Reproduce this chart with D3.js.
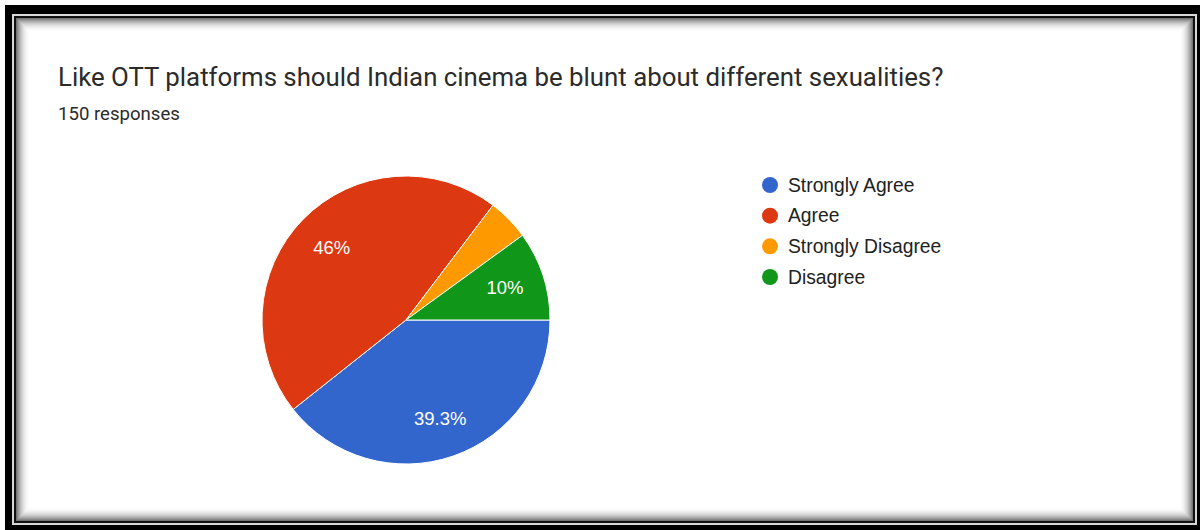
<!DOCTYPE html>
<html>
<head>
<meta charset="utf-8">
<script src="https://cdn.jsdelivr.net/npm/d3@7"></script>
<style>
  html, body { margin: 0; padding: 0; background: #ffffff; }
  svg { display: block; }
</style>
</head>
<body>
<svg id="chart" width="1200" height="530"></svg>
<script>
// Survey responses (150 total)
const categories = ["Strongly Agree", "Agree", "Strongly Disagree", "Disagree"];
const responses = [59, 69, 7, 15];
const percentLabels = ["39.3%", "46%", "", "10%"];
const sliceColors = ["#3366cc", "#dc3912", "#ff9900", "#109618"];

const titleText = "Like OTT platforms should Indian cinema be blunt about different sexualities?";
const subtitleText = "150 responses";

const W = 1200, H = 530;
const svg = d3.select("#chart");

// ---- card frame: black border, thin light rule, dark rule, inner shading ----
svg.append("rect").attr("x", 5).attr("y", 5).attr("width", W - 5).attr("height", H - 5).attr("fill", "#000");
svg.append("rect").attr("x", 12).attr("y", 14).attr("width", 1197 - 12).attr("height", 525 - 14).attr("fill", "#d8d8d8");
svg.append("rect").attr("x", 14).attr("y", 16).attr("width", 1195 - 14).attr("height", 523 - 16).attr("fill", "#111");
svg.append("rect").attr("x", 16).attr("y", 18).attr("width", 1193 - 16).attr("height", 521 - 18).attr("fill", "#fff");

// inner shadow built from nested translucent outlines
const shadowSteps = d3.range(0, 14);
svg.append("g").selectAll("rect")
  .data(shadowSteps)
  .join("rect")
  .attr("x", d => 16.5 + d)
  .attr("y", d => 18.5 + d)
  .attr("width", d => 1193 - 16 - 1 - 2 * d)
  .attr("height", d => 521 - 18 - 1 - 2 * d)
  .attr("fill", "none")
  .attr("stroke", "#000")
  .attr("stroke-opacity", d => 0.55 * Math.pow(1 - d / 14, 2.2));

// ---- titles ----
svg.append("text")
  .attr("x", 58).attr("y", 86)
  .attr("font-family", "Roboto, 'Noto Sans', sans-serif")
  .attr("font-size", 25.8)
  .attr("fill", "#2b2b2b")
  .text(titleText);

svg.append("text")
  .attr("x", 58).attr("y", 120)
  .attr("font-family", "Roboto, 'Noto Sans', sans-serif")
  .attr("font-size", 18.6)
  .attr("fill", "#2b2b2b")
  .text(subtitleText);

// ---- pie ----
const cx = 406, cy = 320, R = 144;
const pie = d3.pie()
  .value(d => d)
  .sort(null)
  .startAngle(Math.PI / 2)
  .endAngle(Math.PI / 2 + 2 * Math.PI);
const arcs = pie(responses);
const arc = d3.arc().innerRadius(0).outerRadius(R);
const labelArc = d3.arc().innerRadius(104).outerRadius(104);

const pieG = svg.append("g").attr("transform", `translate(${cx},${cy})`);
pieG.selectAll("path")
  .data(arcs)
  .join("path")
  .attr("d", arc)
  .attr("fill", (d, i) => sliceColors[i])
  .attr("stroke", "#fff")
  .attr("stroke-width", 1);

pieG.selectAll("text")
  .data(arcs)
  .join("text")
  .attr("transform", d => `translate(${labelArc.centroid(d)})`)
  .attr("text-anchor", "middle")
  .attr("dy", "0.35em")
  .attr("font-family", "'Liberation Sans', Arial, sans-serif")
  .attr("font-size", 18.5)
  .attr("fill", "#fff")
  .text((d, i) => percentLabels[i]);

// ---- legend ----
const legendY = d3.scalePoint().domain(categories).range([185, 277]);
const legend = svg.append("g");
const items = legend.selectAll("g")
  .data(categories)
  .join("g")
  .attr("transform", d => `translate(770,${legendY(d)})`);
items.append("circle").attr("r", 8).attr("fill", (d, i) => sliceColors[i]);
items.append("text")
  .attr("x", 18).attr("dy", "0.35em")
  .attr("font-family", "'Liberation Sans', Arial, sans-serif")
  .attr("font-size", 19.3)
  .attr("fill", "#222")
  .text(d => d);
</script>
</body>
</html>
